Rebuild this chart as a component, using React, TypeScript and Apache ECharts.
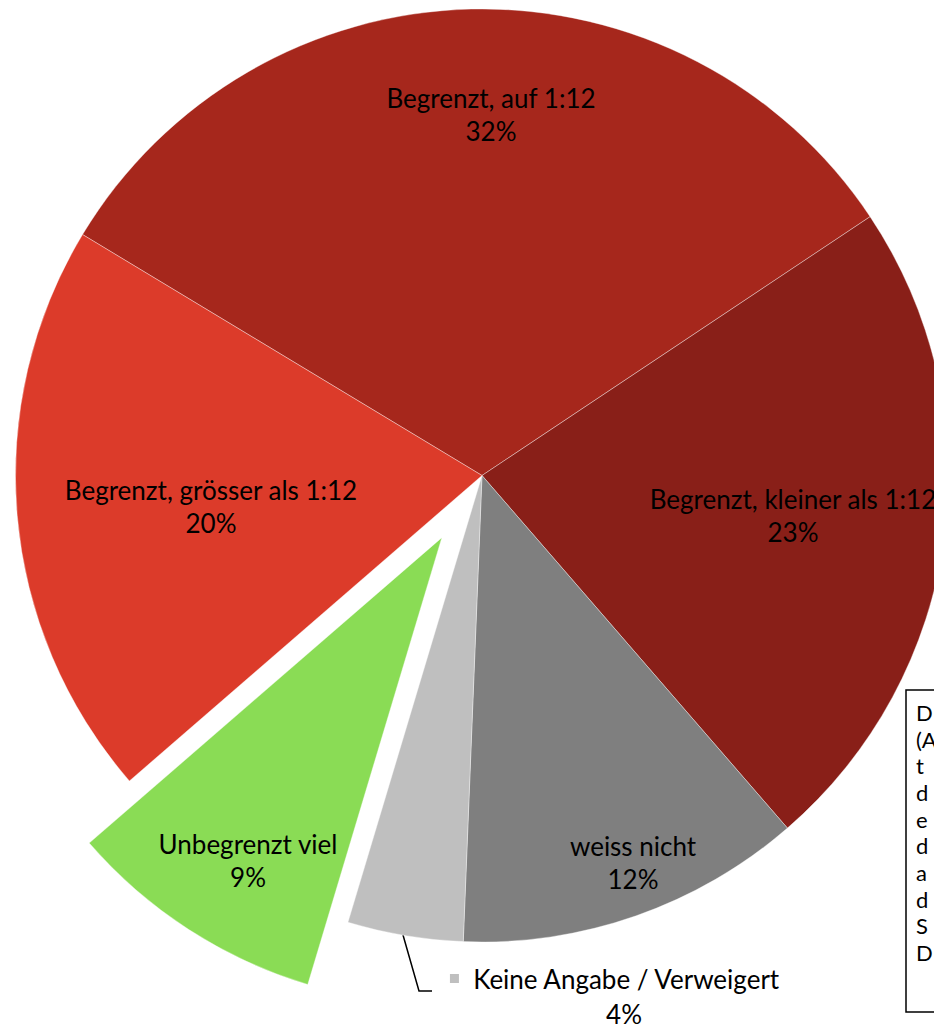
import React, { useEffect, useRef } from "react";
import * as echarts from "echarts";

const categories = [
  "Begrenzt, auf 1:12",
  "Begrenzt, kleiner als 1:12",
  "weiss nicht",
  "Keine Angabe / Verweigert",
  "Unbegrenzt viel",
  "Begrenzt, grösser als 1:12",
];
const shares = [32, 23, 12, 4, 9, 20];
const colors = ["#A6271C", "#891F18", "#7F7F7F", "#BFBFBF", "#8ADC55", "#DC3B2A"];
const explodedIndex = 4;
const outsideIndex = 3;

// layout (label centres in px), not data
const labelCenters: (number[] | null)[] = [
  [491, 114],
  [793, 515],
  [633, 862],
  null,
  [248, 860],
  [211, 506],
];
const noteLetters = ["D", "(A", "t", "d", "e", "d", "a", "d", "S", "D"];

const FONT = "Lato";
const CX = 482;
const CY = 475.5;
const R = 466.5;
const START_CLOCK = 301.1; // degrees clockwise from 12 o'clock
const EXPLODE = 74;

export default function App() {
  const ref = useRef<HTMLDivElement>(null);
  useEffect(() => {
    if (!ref.current) return;
    const chart = echarts.init(ref.current, undefined, { renderer: "svg" });
    const total = shares.reduce((a, b) => a + b, 0);
    const before = shares.slice(0, explodedIndex).reduce((a, b) => a + b, 0);
    const midClock =
      ((START_CLOCK + ((before + shares[explodedIndex] / 2) / total) * 360) * Math.PI) / 180;
    const offX = EXPLODE * Math.sin(midClock);
    const offY = -EXPLODE * Math.cos(midClock);

    const makeData = (visible: (i: number) => boolean) =>
      categories.map((name, i) => {
        const show = visible(i);
        const item: any = {
          name,
          value: shares[i],
          itemStyle: show
            ? { color: colors[i] }
            : { color: "rgba(0,0,0,0)", borderWidth: 0 },
        };
        if (!show) {
          item.label = { show: false };
          item.labelLine = { show: false };
          return item;
        }
        if (i === outsideIndex) {
          item.label = {
            position: "outside",
            formatter: (p: any) => `{sq|}  {n|${p.name}}\n{p|${p.value}%}`,
            rich: {
              sq: { width: 9, height: 9, backgroundColor: colors[outsideIndex] },
              n: { fontFamily: FONT, fontSize: 26, color: "#000", lineHeight: 35 },
              p: {
                fontFamily: FONT,
                fontSize: 26,
                color: "#000",
                lineHeight: 35,
                padding: [0, 0, 0, 18],
              },
            },
          };
          item.labelLine = { show: true, lineStyle: { color: "#000", width: 1.5 } };
        }
        return item;
      });

    const labelLayout = (p: any) => {
      const i = p.dataIndex;
      if (i === outsideIndex) {
        return {
          x: 615,
          y: 996,
          align: "center",
          verticalAlign: "middle",
          labelLinePoints: [
            [403, 935],
            [419, 991],
            [432, 991],
          ],
        };
      }
      const c = labelCenters[i];
      if (!c) return {};
      return { x: c[0], y: c[1], align: "center", verticalAlign: "middle" };
    };

    const base = {
      type: "pie",
      radius: [0, R],
      startAngle: 90 - START_CLOCK,
      clockwise: true,
      avoidLabelOverlap: false,
      silent: true,
      itemStyle: { borderColor: "rgba(255,255,255,0.45)", borderWidth: 0.8 },
      emphasis: { disabled: true },
      label: {
        show: true,
        position: "inside",
        formatter: (p: any) => `${p.name}\n${p.value}%`,
        fontFamily: FONT,
        fontSize: 26,
        lineHeight: 33,
        color: "#000",
        align: "center",
      },
      labelLine: { show: false },
      labelLayout,
    };

    chart.setOption({
      animation: false,
      backgroundColor: "#fff",
      series: [
        {
          ...base,
          name: "main",
          center: [CX, CY],
          data: makeData((i) => i !== explodedIndex),
        },
        {
          ...base,
          name: "exploded",
          center: [CX + offX, CY + offY],
          data: makeData((i) => i === explodedIndex),
        },
      ],
      graphic: [
        {
          type: "rect",
          shape: { x: 906, y: 690, width: 80, height: 322 },
          style: { fill: "#fff", stroke: "#000", lineWidth: 1.5 },
          z: 10,
        },
        {
          type: "text",
          x: 916,
          y: 699,
          style: {
            text: noteLetters.join("\n"),
            fontFamily: FONT,
            fontSize: 22,
            lineHeight: 26.7,
            fill: "#000",
          },
          z: 11,
        },
      ],
    });
    return () => chart.dispose();
  }, []);
  return (
    <div
      ref={ref}
      style={{ position: "absolute", left: 0, top: 0, width: 934, height: 1027 }}
    />
  );
}
